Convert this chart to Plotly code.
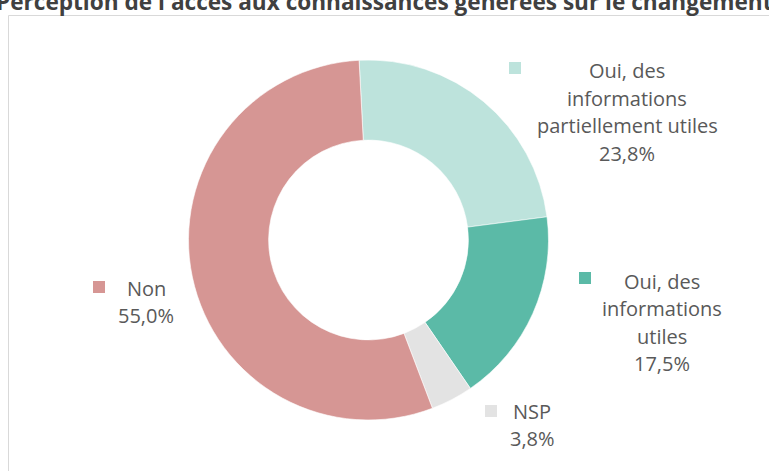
import plotly.graph_objects as go

W, H = 769, 471

categories = ["Oui, des informations partiellement utiles", "Oui, des informations utiles", "NSP", "Non"]
values = [23.8, 17.5, 3.8, 55.0]
value_labels = ["23,8%", "17,5%", "3,8%", "55,0%"]
label_lines = [["Oui, des", "informations", "partiellement utiles"],
               ["Oui, des", "informations", "utiles"],
               ["NSP"],
               ["Non"]]
colors = ["#BDE3DC", "#5BBAA7", "#E3E3E3", "#D69694"]
title = "Perception de l'accès aux connaissances générées sur le changement climatique"

# label layout (pixel positions: text center x, first line center y, square center x,y)
label_pos = [
    (627, 71, 515, 68),
    (662, 281, 585, 278),
    (532, 411, 491, 411),
    (146, 288, 99, 287),
]
LINE = 27.5
FONT = "Open Sans"
TXT = "#595959"

fig = go.Figure()
cx, cy, r = 368.5, 240, 180
fig.add_trace(go.Pie(
    labels=categories, values=values, hole=0.555, sort=False, direction="clockwise",
    rotation=-3, textinfo="none", hoverinfo="label+percent",
    marker=dict(colors=colors, line=dict(color="white", width=0.6)),
    domain=dict(x=[(cx - r) / W, (cx + r) / W], y=[(H - cy - r) / H, (H - cy + r) / H]),
    showlegend=False,
))

def px(x):
    return x / W

def py(y):
    return 1 - y / H

for lines, vl, col, (tx, ty, sx, sy) in zip(label_lines, value_labels, colors, label_pos):
    all_lines = lines + [vl]
    for i, t in enumerate(all_lines):
        fig.add_annotation(x=px(tx), y=py(ty + i * LINE), xref="paper", yref="paper",
                           text=t, showarrow=False, xanchor="center", yanchor="middle",
                           font=dict(family=FONT, size=20, color=TXT))
    fig.add_shape(type="rect", xref="paper", yref="paper",
                  x0=px(sx - 6), x1=px(sx + 6), y0=py(sy + 6), y1=py(sy - 6),
                  fillcolor=col, line=dict(width=0))

# border box
fig.add_shape(type="rect", xref="paper", yref="paper",
              x0=px(8.5), x1=1.2, y0=-0.2, y1=py(15.5),
              line=dict(color="#D9D9D9", width=1), fillcolor="rgba(0,0,0,0)")

fig.add_annotation(x=px(-6), y=py(19), xref="paper", yref="paper", text="<b>" + title + "</b>",
                   showarrow=False, xanchor="left", yanchor="bottom",
                   font=dict(family=FONT, size=22.6, color="#404040"))

fig.update_layout(width=W, height=H, margin=dict(l=0, r=0, t=0, b=0),
                  paper_bgcolor="white", plot_bgcolor="white")
fig.write_html("out.html", config={"displayModeBar": False},
               post_script="document.body.style.margin='0';document.body.style.overflow='hidden';")
